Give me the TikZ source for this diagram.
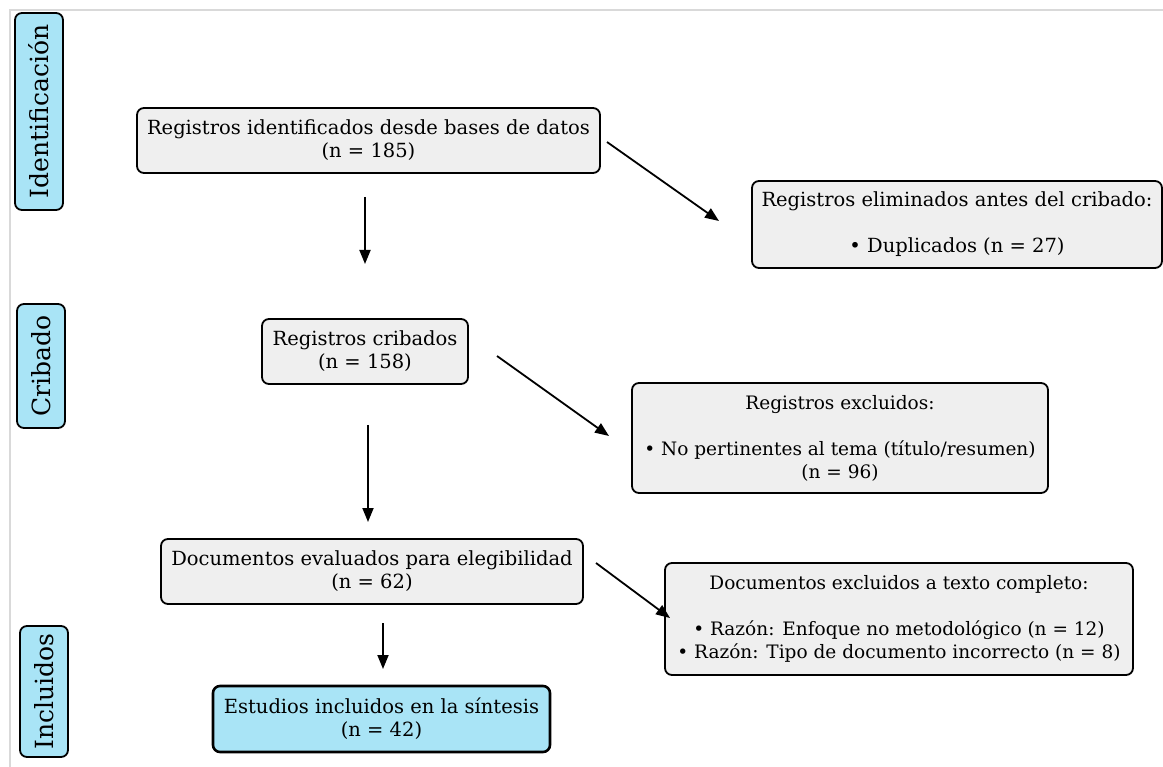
\documentclass[tikz,border=0pt]{standalone}
\usepackage{fontspec}
\setmainfont{DejaVu Serif}
\usetikzlibrary{arrows.meta}
\definecolor{boxgray}{HTML}{EFEFEF}
\definecolor{stageblue}{HTML}{A9E4F6}
\definecolor{framegray}{HTML}{D9D9D9}

\begin{document}
\begin{tikzpicture}[x=1pt,y=-1pt,
  box/.style={draw,line width=1.8pt,rounded corners=7pt,fill=boxgray,align=center,
    font=\fontsize{19.5}{23}\selectfont,inner sep=0pt},
  smallbox/.style={box,font=\fontsize{18.5}{23}\selectfont},
  stage/.style={draw,line width=1.8pt,rounded corners=7pt,fill=stageblue,rotate=90,
    font=\fontsize{25}{29}\selectfont,inner sep=0pt,minimum height=48pt},
  flow/.style={-{Triangle[length=14pt,width=11pt]},line width=1.8pt}]
  \useasboundingbox (0,0) rectangle (1163,767);
  \draw[framegray,line width=2pt] (10,767) -- (10,10) -- (1163,10);

  % stages
  \node[stage,minimum width=197pt] (Sid) at (39,111.5) {Identificación};
  \node[stage,minimum width=124pt] (Scr) at (41,366)   {Cribado};
  \node[stage,minimum width=131pt] (Sin) at (44,691.5) {Incluidos};

  % boxes
  \node[box,minimum width=463pt,minimum height=65pt] (ident) at (368.5,140.5)
    {Registros identificados desde bases de datos\\(n = 185)};
  \node[box,minimum width=410pt,minimum height=87pt] (elim) at (957,224.5)
    {Registros eliminados antes del cribado:\\[23pt]• Duplicados (n = 27)};
  \node[box,minimum width=206pt,minimum height=65pt] (crib) at (365,351.5)
    {Registros cribados\\(n = 158)};
  \node[smallbox,minimum width=416pt,minimum height=110pt] (excl) at (840,438)
    {Registros excluidos:\\[23pt]• No pertinentes al tema (título/resumen)\\(n = 96)};
  \node[box,minimum width=422pt,minimum height=65pt] (eval) at (372,571.5)
    {Documentos evaluados para elegibilidad\\(n = 62)};
  \node[smallbox,minimum width=468pt,minimum height=112pt] (full) at (899,619)
    {Documentos excluidos a texto completo:\\[23pt]• Razón: Enfoque no metodológico (n = 12)\\• Razón: Tipo de documento incorrecto (n = 8)};
  \node[box,fill=stageblue,line width=2.6pt,minimum width=337pt,minimum height=66pt] (incl) at (381.5,719)
    {Estudios incluidos en la síntesis\\(n = 42)};

  % arrow ends
  \coordinate (ident-s) at (365,197);  \coordinate (crib-n) at (365,264);
  \coordinate (ident-e) at (607,142);  \coordinate (elim-w) at (719,221);
  \coordinate (crib-s)  at (368,425);  \coordinate (eval-n) at (368,522);
  \coordinate (crib-e)  at (497,356);  \coordinate (excl-w) at (609,436);
  \coordinate (eval-s)  at (383,623);  \coordinate (incl-n) at (383,669);
  \coordinate (eval-e)  at (596,563);  \coordinate (full-w) at (670,618);

  \draw[flow] (ident-s) -- (crib-n);
  \draw[flow] (ident-e) -- (elim-w);
  \draw[flow] (crib-s) -- (eval-n);
  \draw[flow] (crib-e) -- (excl-w);
  \draw[flow] (eval-s) -- (incl-n);
  \draw[flow] (eval-e) -- (full-w);
\end{tikzpicture}
\end{document}
